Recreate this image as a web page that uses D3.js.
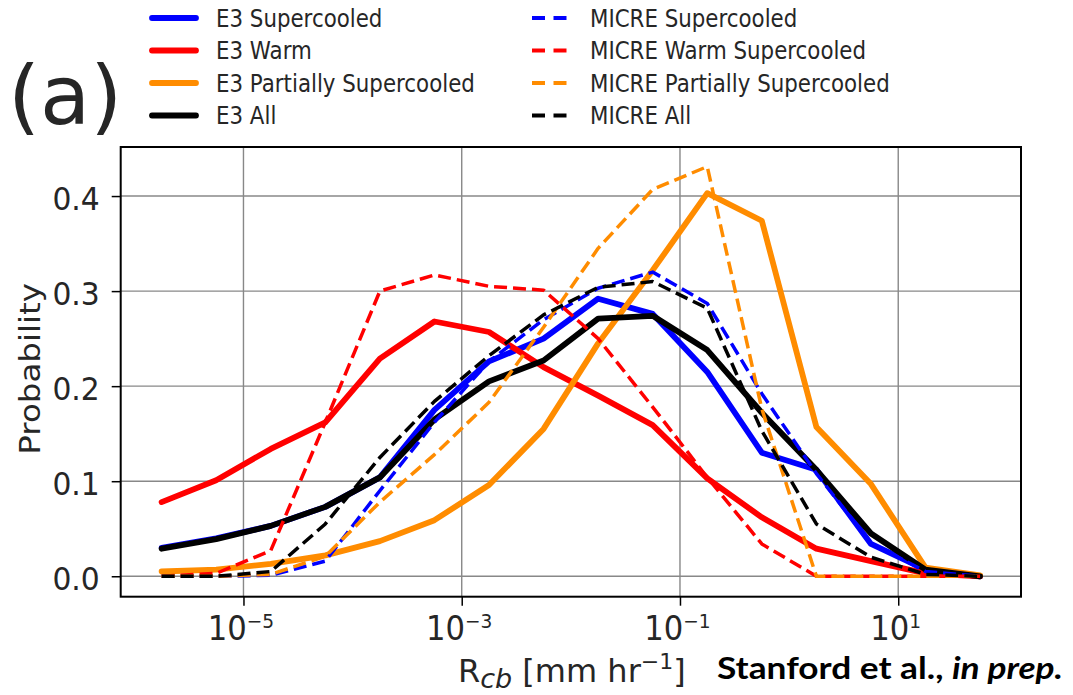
<!DOCTYPE html>
<html><head><meta charset="utf-8">
<script src="https://cdn.jsdelivr.net/npm/d3@7"></script>
<style>body{margin:0;background:#fff} svg{display:block}</style>
</head><body>
<svg id="chart" width="1073" height="695"></svg>
<script>
// ---- data ----
const binExponents = [-5.75,-5.25,-4.75,-4.25,-3.75,-3.25,-2.75,-2.25,-1.75,-1.25,-0.75,-0.25,0.25,0.75,1.25,1.75];
const e3Supercooled   = [0.030,0.040,0.053,0.073,0.104,0.175,0.226,0.250,0.292,0.276,0.215,0.130,0.112,0.034,0.007,0.000];
const e3Warm          = [0.078,0.101,0.134,0.162,0.229,0.268,0.257,0.220,0.190,0.159,0.103,0.062,0.029,0.016,0.003,0.000];
const e3Partially     = [0.005,0.007,0.013,0.022,0.037,0.059,0.096,0.155,0.245,0.322,0.403,0.374,0.157,0.097,0.009,0.001];
const e3All           = [0.029,0.039,0.053,0.073,0.104,0.165,0.205,0.227,0.271,0.274,0.238,0.172,0.112,0.045,0.007,0.000];
const micreSupercooled= [0.000,0.000,0.001,0.016,0.090,0.162,0.226,0.270,0.303,0.320,0.287,0.192,0.108,0.035,0.005,0.000];
const micreWarm       = [0.000,0.003,0.027,0.162,0.300,0.317,0.305,0.301,0.250,0.178,0.104,0.034,0.000,0.000,0.000,0.000];
const micrePartially  = [0.000,0.000,0.002,0.021,0.078,0.128,0.183,0.262,0.345,0.407,0.431,0.176,0.000,0.000,0.000,0.000];
const micreAll        = [0.000,0.000,0.005,0.055,0.125,0.184,0.232,0.275,0.304,0.310,0.282,0.153,0.055,0.020,0.002,0.000];

const seriesLabels = ["E3 Supercooled","E3 Warm","E3 Partially Supercooled","E3 All",
                      "MICRE Supercooled","MICRE Warm Supercooled","MICRE Partially Supercooled","MICRE All"];
const xTickExponents = [-5,-3,-1,1];
const yTickValues = [0.0,0.1,0.2,0.3,0.4];

// ---- styling/layout ----
const series = [
  {label: seriesLabels[0], values: e3Supercooled,    color:"#0000ff", dashed:false},
  {label: seriesLabels[1], values: e3Warm,           color:"#ff0000", dashed:false},
  {label: seriesLabels[2], values: e3Partially,      color:"#ff8c00", dashed:false},
  {label: seriesLabels[3], values: e3All,            color:"#000000", dashed:false},
  {label: seriesLabels[4], values: micreSupercooled, color:"#0000ff", dashed:true},
  {label: seriesLabels[5], values: micreWarm,        color:"#ff0000", dashed:true},
  {label: seriesLabels[6], values: micrePartially,   color:"#ff8c00", dashed:true},
  {label: seriesLabels[7], values: micreAll,         color:"#000000", dashed:true}
];
const SX = 0.89;      // legend text squeeze
const SXT = 0.93;     // tick label squeeze
const FONT = "'DejaVu Sans', sans-serif";
const TXT = "#262626";
const plot = {left:120.7, right:1021, top:147, bottom:596.7};
const DASH = "13,6";

const svg = d3.select("#chart");
const x = d3.scaleLog().domain([Math.pow(10,-6.125), Math.pow(10,2.125)]).range([plot.left, plot.right]);
const y = d3.scaleLinear().domain([-0.0215, 0.4516]).range([plot.bottom, plot.top]);
const xTicks = xTickExponents.map(e => Math.pow(10, e));

// grid
const grid = svg.append("g");
grid.selectAll("line.gx").data(xTicks).join("line")
  .attr("x1", d=>x(d)).attr("x2", d=>x(d)).attr("y1", plot.top).attr("y2", plot.bottom)
  .attr("stroke","#888").attr("stroke-width",1.4);
grid.selectAll("line.gy").data(yTickValues).join("line")
  .attr("y1", d=>y(d)).attr("y2", d=>y(d)).attr("x1", plot.left).attr("x2", plot.right)
  .attr("stroke","#888").attr("stroke-width",1.4);

// lines
svg.append("clipPath").attr("id","clip").append("rect")
  .attr("x",plot.left).attr("y",plot.top).attr("width",plot.right-plot.left).attr("height",plot.bottom-plot.top);
const lineGen = d3.line().x((d,i)=>x(Math.pow(10, binExponents[i]))).y(d=>y(d));
const lines = svg.append("g").attr("clip-path","url(#clip)");
series.forEach(s => {
  lines.append("path").datum(s.values)
    .attr("d", lineGen)
    .attr("fill","none")
    .attr("stroke", s.color)
    .attr("stroke-width", s.dashed ? 3.5 : 5.8)
    .attr("stroke-linejoin","round")
    .attr("stroke-linecap", s.dashed ? "butt" : "round")
    .attr("stroke-dasharray", s.dashed ? DASH : null);
});

// axes
const yAxis = d3.axisLeft(y).tickValues(yTickValues).tickSize(9).tickPadding(12).tickFormat(d3.format(".1f"));
const yg = svg.append("g").attr("transform",`translate(${plot.left},0)`).call(yAxis);
yg.select(".domain").remove();
yg.selectAll(".tick line").attr("stroke","#000").attr("stroke-width",1.5);
yg.selectAll(".tick text").attr("font-family",FONT).attr("font-size",32).attr("fill",TXT)
  .attr("x", -21/SXT).attr("dy","0.41em").attr("transform",`scale(${SXT},1)`);

const xAxis = d3.axisBottom(x).tickValues(xTicks).tickSize(9).tickFormat("");
const xg = svg.append("g").attr("transform",`translate(0,${plot.bottom})`).call(xAxis);
xg.select(".domain").remove();
xg.selectAll(".tick line").attr("stroke","#000").attr("stroke-width",1.5);
xg.selectAll(".tick text").remove();
xg.selectAll(".tick").each(function(d){
  const e = Math.round(Math.log10(d));
  const t = d3.select(this).append("text")
    .attr("transform",`translate(-3,43.5) scale(${SXT},1)`)
    .attr("text-anchor","middle").attr("font-family",FONT).attr("fill",TXT);
  t.append("tspan").attr("font-size",33).text("10");
  t.append("tspan").attr("font-size",20).attr("dy",-12).text(e < 0 ? "\u2212" + (-e) : String(e));
});

// frame
svg.append("rect").attr("x",plot.left).attr("y",plot.top)
  .attr("width",plot.right-plot.left).attr("height",plot.bottom-plot.top)
  .attr("fill","none").attr("stroke","#000").attr("stroke-width",2);

// y label
svg.append("text").attr("transform",`translate(40,${(plot.top+plot.bottom)/2 - 3}) scale(${SX},1) rotate(-90)`)
  .attr("text-anchor","middle").attr("font-family",FONT).attr("font-size",32.5).attr("fill",TXT)
  .text("Probability");

// x label
const xl = svg.append("text").attr("transform",`translate(${(plot.left+plot.right)/2 + 1},681.5)`)
  .attr("text-anchor","middle").attr("font-family",FONT).attr("font-size",32).attr("fill",TXT);
xl.append("tspan").text("R");
xl.append("tspan").attr("font-size",27).attr("font-style","italic").attr("dy",6).text("cb");
xl.append("tspan").attr("dy",-6).text(" [mm hr");
xl.append("tspan").attr("font-size",22).attr("dy",-13).text("\u22121");
xl.append("tspan").attr("dy",13).text("]");

// credit
const cr = svg.append("text").attr("x",717).attr("y",679)
  .attr("font-family","Lato, 'Open Sans', sans-serif").attr("font-weight","bold").attr("font-size",31)
  .attr("fill","#000").attr("textLength",346).attr("lengthAdjust","spacingAndGlyphs");
cr.append("tspan").text("Stanford et al., ");
cr.append("tspan").attr("font-style","italic").text("in prep.");

// panel label
svg.append("text").attr("x",8).attr("y",124)
  .attr("font-family",FONT).attr("font-size",82).attr("fill",TXT).text("(a)");

// legend
const legRows = [18, 50.5, 83, 115.5];
const legCols = [{x1:152,x2:196,tx:216},{x1:532,x2:568,tx:590}];
series.forEach((s,i) => {
  const col = legCols[s.dashed ? 1 : 0];
  const ry = legRows[i % 4];
  svg.append("line").attr("x1",col.x1).attr("x2",col.x2).attr("y1",ry).attr("y2",ry)
    .attr("stroke",s.color).attr("stroke-width", s.dashed ? 3.8 : 5.8)
    .attr("stroke-linecap", s.dashed ? "butt" : "round")
    .attr("stroke-dasharray", s.dashed ? "13,8.5" : null);
  svg.append("text").attr("transform",`translate(${col.tx},${ry+8.7}) scale(${SX},1)`)
    .attr("font-family",FONT).attr("font-size",24).attr("fill",TXT).text(s.label);
});
</script>
</body></html>
